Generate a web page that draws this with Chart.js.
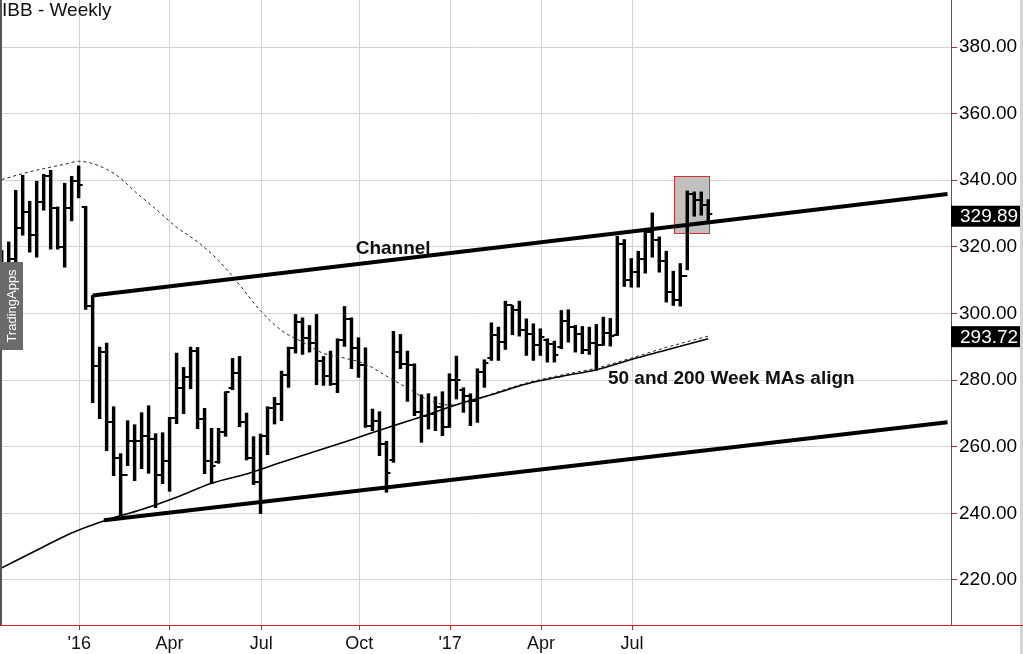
<!DOCTYPE html>
<html>
<head>
<meta charset="utf-8">
<title>IBB - Weekly</title>
<script src="https://cdn.jsdelivr.net/npm/chart.js@4.4.1/dist/chart.umd.min.js"></script>
<style>
    html, body { margin: 0; padding: 0; background: #fff; }
    #wrap { width: 1023px; height: 654px; }
</style>
</head>
<body>
<div id="wrap"><canvas id="chart" width="1023" height="654"></canvas></div>
<script>
// weekly OHLC, one value per bar (week 0 = late Oct 2015, week 101 = mid Sep 2017)
var opens = [
    312.0, 315.0, 316.5, 325.7, 330.4, 323.5, 333.5, 341.2, 331.7, 319.9,
    331.7, 339.8, 332.0, 302.2, 284.1, 288.3, 267.3, 256.7, 251.6, 261.8,
    261.8, 263.3, 262.4, 251.6, 255.6, 268.7, 277.5, 280.8, 288.6, 268.4,
    255.8, 255.5, 264.3, 277.5, 282.0, 267.3, 256.6, 249.3, 263.3, 271.6,
    272.8, 281.4, 289.7, 297.4, 292.7, 291.1, 285.6, 281.1, 278.9, 291.9,
    298.4, 289.7, 284.4, 266.1, 267.8, 260.8, 256.0, 288.4, 284.9, 284.4,
    270.3, 269.3, 269.8, 271.8, 266.0, 280.1, 277.0, 275.3, 273.8, 282.3,
    286.5, 293.4, 291.4, 302.4, 300.9, 295.1, 293.9, 290.4, 292.0, 290.9,
    290.0, 297.7, 295.9, 293.9, 289.1, 291.1, 290.4, 294.1, 293.4, 320.8,
    310.1, 312.4, 316.5, 324.5, 322.0, 315.9, 306.4, 303.9, 311.4, 336.0,
    334.0, 332.5
];
var highs = [
    318.9, 321.5, 337.0, 341.5, 333.7, 339.7, 341.8, 343.0, 332.0, 339.1,
    341.2, 344.3, 332.2, 305.4, 289.9, 291.1, 272.0, 257.9, 267.8, 266.6,
    270.2, 272.3, 263.9, 264.2, 268.8, 288.1, 283.8, 289.9, 289.8, 271.5,
    265.5, 265.5, 276.5, 286.5, 287.1, 270.1, 263.0, 263.8, 272.0, 274.8,
    282.7, 289.9, 299.7, 298.7, 296.4, 299.7, 287.1, 288.7, 292.4, 302.1,
    298.7, 292.7, 289.7, 271.3, 270.5, 261.6, 294.6, 293.7, 288.7, 284.9,
    275.6, 275.9, 275.0, 276.5, 281.9, 287.2, 277.7, 275.9, 283.4, 286.1,
    297.2, 295.9, 303.7, 302.4, 303.7, 298.4, 296.9, 295.4, 292.4, 291.7,
    300.9, 301.1, 296.4, 296.1, 295.9, 296.7, 298.9, 298.5, 323.2, 322.2,
    316.5, 318.7, 325.5, 330.2, 323.0, 318.7, 312.7, 315.0, 336.8, 336.5,
    336.5, 334.2
];
var lows = [
    305.0, 312.0, 310.9, 323.5, 318.4, 316.9, 331.0, 319.3, 319.3, 313.9,
    327.8, 334.7, 301.2, 273.2, 268.4, 258.8, 251.3, 239.3, 254.3, 249.8,
    253.4, 252.0, 241.7, 248.9, 246.6, 266.9, 269.9, 277.4, 265.4, 251.9,
    248.9, 255.0, 263.1, 277.1, 266.0, 256.0, 248.6, 239.9, 257.6, 266.8,
    267.8, 277.8, 288.1, 287.7, 288.4, 278.6, 278.4, 278.4, 276.2, 290.1,
    283.4, 280.8, 265.8, 264.8, 257.3, 246.3, 255.3, 283.4, 273.6, 269.3,
    261.3, 265.3, 264.8, 263.3, 265.8, 274.3, 270.3, 266.3, 267.3, 277.8,
    285.9, 285.9, 289.2, 293.6, 293.2, 287.4, 285.9, 287.4, 285.4, 285.4,
    289.4, 291.4, 288.4, 287.9, 287.7, 282.9, 290.4, 290.2, 293.4, 308.1,
    307.9, 307.9, 312.1, 316.9, 312.4, 303.4, 302.4, 302.2, 313.1, 329.2,
    329.5, 327.0
];
var closes = [
    315.0, 316.5, 325.7, 330.4, 323.5, 333.5, 341.2, 331.7, 319.9, 331.7,
    339.8, 338.5, 302.2, 284.1, 288.3, 267.3, 256.7, 251.6, 261.8, 261.8,
    263.3, 262.4, 251.6, 255.6, 268.7, 277.5, 280.8, 288.6, 268.4, 255.8,
    254.3, 264.3, 276.3, 282.0, 267.3, 256.6, 249.3, 263.3, 271.6, 272.8,
    281.4, 289.7, 297.4, 292.7, 291.1, 285.6, 281.1, 278.9, 291.9, 298.4,
    289.7, 284.4, 266.1, 267.8, 260.8, 252.0, 288.4, 284.9, 284.4, 270.3,
    269.3, 269.8, 271.8, 265.8, 280.1, 280.1, 275.3, 273.8, 282.3, 285.0,
    293.4, 291.4, 302.4, 300.9, 295.1, 293.9, 290.4, 292.9, 290.9, 287.6,
    297.7, 295.9, 293.9, 289.1, 291.1, 290.4, 294.1, 293.1, 320.8, 310.1,
    312.4, 316.5, 324.5, 322.0, 315.9, 306.4, 303.9, 311.4, 336.0, 334.0,
    332.5, 329.89
];

// moving averages, every few weeks
var ma200Weeks = [0, 5, 10, 15, 20, 25, 30, 35, 40, 45, 50, 55, 60, 65, 70, 75, 80, 85, 90, 95, 101];
var ma200Values = [223.6, 228.9, 234.1, 238.0, 241.1, 244.8, 249.0, 251.8, 255.3, 258.7, 262.1,
    265.6, 269.0, 272.6, 275.6, 278.8, 281.1, 283.1, 286.2, 289.0, 292.4];
var ma50Weeks = [0, 3, 6, 9, 11, 13, 15, 17, 19, 22, 25, 28, 31, 34, 37, 40, 43, 46, 49, 52,
    55, 58, 61, 64, 67, 70, 75, 80, 85, 90, 95, 101];
var ma50Values = [340.2, 342.0, 343.5, 344.8, 345.7, 345.0, 343.3, 340.6, 336.7, 331.4, 325.9,
    321.5, 315.9, 308.6, 300.8, 294.9, 291.4, 288.0, 286.6, 284.8, 281.2, 277.6, 274.0, 272.5,
    273.4, 275.8, 279.1, 281.5, 283.6, 286.6, 289.8, 293.2];

// hand drawn channel
var channelUpperWeeks = [13.0, 135.2];
var channelUpperValues = [305.4, 335.9];
var channelLowerWeeks = [14.6, 135.2];
var channelLowerValues = [237.9, 267.3];

// highlighted range of the last weeks
var boxWeeks = [96.1, 101.1];
var boxValues = [324.1, 341.2];

// axes
var xTickWeeks = [11.1, 24.0, 37.1, 51.1, 64.1, 77.1, 90.1];
var xTickLabels = ["'16", 'Apr', 'Jul', 'Oct', "'17", 'Apr', 'Jul'];
var yTickValues = [220, 240, 260, 280, 300, 320, 340, 360, 380];
var lastLabels = [329.89, 293.72];

var FONT = '"Liberation Sans", Arial, sans-serif';
var AXIS_RED = '#c62828';
var GRID = '#d2d2d2';

function pairs(xs, ys) {
    var out = [];
    for (var i = 0; i < xs.length; i++) {
        out.push({ x: xs[i], y: ys[i] });
    }
    return out;
}

var barData = [];
for (var i = 0; i < highs.length; i++) {
    barData.push({ x: i, y: [lows[i], highs[i]] });
}

var decorPlugin = {
    id: 'decor',
    beforeDraw: function (chart) {
        var ctx = chart.ctx;
        ctx.save();
        ctx.fillStyle = '#fff';
        ctx.fillRect(0, 0, chart.width, chart.height);
        ctx.restore();
    },
    beforeDatasetsDraw: function (chart) {
        var ctx = chart.ctx, xs = chart.scales.x, ys = chart.scales.y;
        var x0 = xs.getPixelForValue(boxWeeks[0]), x1 = xs.getPixelForValue(boxWeeks[1]);
        var y0 = ys.getPixelForValue(boxValues[1]), y1 = ys.getPixelForValue(boxValues[0]);
        ctx.save();
        ctx.fillStyle = '#c0c0c0';
        ctx.fillRect(x0, y0, x1 - x0, y1 - y0);
        ctx.strokeStyle = '#d03030';
        ctx.lineWidth = 1;
        ctx.strokeRect(Math.round(x0) + 0.5, Math.round(y0) + 0.5, Math.round(x1 - x0), Math.round(y1 - y0));
        ctx.restore();
    },
    afterDatasetsDraw: function (chart) {
        // open / close ticks of every bar
        var ctx = chart.ctx, xs = chart.scales.x, ys = chart.scales.y;
        ctx.save();
        ctx.strokeStyle = '#000';
        ctx.lineWidth = 2;
        ctx.beginPath();
        for (var i = 0; i < opens.length; i++) {
            var px = xs.getPixelForValue(i);
            var yo = Math.round(ys.getPixelForValue(opens[i]));
            var yc = Math.round(ys.getPixelForValue(closes[i]));
            ctx.moveTo(px - 4, yo);
            ctx.lineTo(px, yo);
            ctx.moveTo(px, yc);
            ctx.lineTo(px + 4, yc);
        }
        ctx.stroke();
        ctx.restore();
    },
    afterDraw: function (chart) {
        var ctx = chart.ctx, area = chart.chartArea, xs = chart.scales.x, ys = chart.scales.y;
        ctx.save();

        // frame bits
        ctx.fillStyle = '#555';
        ctx.fillRect(0, 0, 2, area.bottom);
        ctx.fillStyle = '#d4d4d4';
        ctx.fillRect(chart.width - 3, 0, 3, chart.height);
        ctx.strokeStyle = AXIS_RED;
        ctx.lineWidth = 1;
        ctx.beginPath();
        ctx.moveTo(area.right, Math.round(area.bottom) + 0.5);
        ctx.lineTo(chart.width, Math.round(area.bottom) + 0.5);
        ctx.stroke();

        // watermark
        ctx.fillStyle = '#6b6b6b';
        ctx.fillRect(0, 262, 23, 88);
        ctx.save();
        ctx.translate(12, 306);
        ctx.rotate(-Math.PI / 2);
        ctx.fillStyle = '#fff';
        ctx.font = '13px ' + FONT;
        ctx.textAlign = 'center';
        ctx.textBaseline = 'middle';
        ctx.fillText('TradingApps', 0, 0);
        ctx.restore();

        // last value boxes on the axis
        ctx.font = '19px ' + FONT;
        ctx.textAlign = 'left';
        ctx.textBaseline = 'middle';
        lastLabels.forEach(function (v) {
            var y = ys.getPixelForValue(v) + 2.3;
            ctx.fillStyle = '#000';
            ctx.fillRect(area.right, y - 10.5, chart.width - 3 - area.right, 21);
            ctx.fillStyle = '#fff';
            ctx.fillText(v.toFixed(2), area.right + 9, y + 1);
        });

        // title
        ctx.fillStyle = '#111';
        ctx.font = '19px ' + FONT;
        ctx.textBaseline = 'alphabetic';
        ctx.fillText('IBB - Weekly', 2, 16);

        // notes
        ctx.font = 'bold 19px ' + FONT;
        ctx.fillText('Channel', xs.getPixelForValue(50.6), ys.getPixelForValue(317.95));
        ctx.fillText('50 and 200 Week MAs align', xs.getPixelForValue(86.66), ys.getPixelForValue(278.86));

        ctx.restore();
    }
};

var ctx = document.getElementById('chart').getContext('2d');
var chart = new Chart(ctx, {
    type: 'bar',
    data: {
        datasets: [{
            type: 'bar',
            data: barData,
            backgroundColor: '#000',
            barThickness: 2.8,
            grouped: false,
            order: 3
        }, {
            type: 'line',
            data: pairs(ma200Weeks, ma200Values),
            borderColor: '#000',
            borderWidth: 1.6,
            pointRadius: 0,
            cubicInterpolationMode: 'monotone',
            order: 2
        }, {
            type: 'line',
            data: pairs(ma50Weeks, ma50Values),
            borderColor: '#222',
            borderWidth: 1,
            borderDash: [3, 3],
            pointRadius: 0,
            cubicInterpolationMode: 'monotone',
            order: 2
        }, {
            type: 'line',
            data: pairs(channelUpperWeeks, channelUpperValues),
            borderColor: '#000',
            borderWidth: 4,
            pointRadius: 0,
            order: 1
        }, {
            type: 'line',
            data: pairs(channelLowerWeeks, channelLowerValues),
            borderColor: '#000',
            borderWidth: 4,
            pointRadius: 0,
            order: 1
        }]
    },
    options: {
        responsive: false,
        animation: false,
        devicePixelRatio: 1,
        events: [],
        layout: { padding: 0 },
        plugins: {
            legend: { display: false },
            tooltip: { enabled: false }
        },
        scales: {
            x: {
                type: 'linear',
                min: -0.243,
                max: 135.7,
                offset: false,
                afterBuildTicks: function (scale) {
                    scale.ticks = xTickWeeks.map(function (v) { return { value: v }; });
                },
                afterFit: function (scale) {
                    scale.height = 29;
                    scale.paddingLeft = 0;
                    scale.paddingRight = 0;
                },
                ticks: {
                    autoSkip: false,
                    maxRotation: 0,
                    padding: 3,
                    color: '#111',
                    font: { family: FONT, size: 18 },
                    callback: function (value, index) { return xTickLabels[index]; }
                },
                grid: { color: GRID, tickColor: AXIS_RED, tickLength: 5, offset: false },
                border: { color: AXIS_RED, width: 1 }
            },
            y: {
                position: 'right',
                min: 206.45,
                max: 394.13,
                afterBuildTicks: function (scale) {
                    scale.ticks = yTickValues.map(function (v) { return { value: v }; });
                },
                afterFit: function (scale) {
                    scale.width = 72;
                    scale.paddingTop = 0;
                    scale.paddingBottom = 0;
                },
                ticks: {
                    padding: 2,
                    color: '#000',
                    font: { family: FONT, size: 19 },
                    callback: function (value) { return value.toFixed(2); }
                },
                grid: { color: GRID, tickColor: AXIS_RED, tickLength: 6 },
                border: { color: AXIS_RED, width: 1 }
            }
        }
    },
    plugins: [decorPlugin]
});
</script>
</body>
</html>
